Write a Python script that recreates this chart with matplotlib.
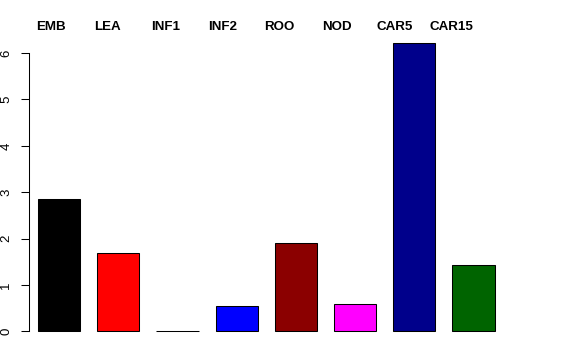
import numpy as np
import matplotlib
matplotlib.use("Agg")
import matplotlib.pyplot as plt
import matplotlib.transforms as mtransforms

plt.rcParams['font.family'] = ['Liberation Sans', 'DejaVu Sans']

tissues = ["EMB", "LEA", "INF1", "INF2", "ROO", "NOD", "CAR5", "CAR15"]
values = [2.86, 1.69, 0.01, 0.55, 1.91, 0.59, 6.22, 1.43]
colors = ["black", "red", "darkgreen", "blue", "darkred", "magenta", "darkblue", "darkgreen"]

# R barplot layout: width 1, space 0.4
xpos = 0.9 + 1.4 * np.arange(len(values))
# labels drift a bit left of the bars in the original
label_x = 0.7 + 1.355 * np.arange(len(tissues))

fig = plt.figure(figsize=(5.76, 3.6), dpi=100)
ax = fig.add_axes([29/576, 1 - 343/360, (526 - 29)/576, (343 - 31.3)/360])

ax.bar(xpos, values, width=1.0, color=colors, edgecolor="black", linewidth=0.75)

ax.set_xlim(0.191, 11.94)
ax.set_ylim(-0.249, 6.47)

for s in ["top", "right", "bottom"]:
    ax.spines[s].set_visible(False)
ax.spines["left"].set_bounds(0, 6)
ax.spines["left"].set_linewidth(0.75)
ax.set_xticks([])
ax.set_yticks(range(7))
ax.tick_params(axis="y", direction="out", length=6, width=0.75, pad=6, labelsize=9.5)
for lab in ax.get_yticklabels():
    lab.set_rotation(90)
    lab.set_va("center")

trans = mtransforms.blended_transform_factory(ax.transData, fig.transFigure)
for x, name in zip(label_x, tissues):
    ax.text(x, 1 - 27/360, name, transform=trans, ha="center", va="center",
            fontsize=9.6, fontweight="bold", clip_on=False)

plt.savefig("out.png", dpi=100)
